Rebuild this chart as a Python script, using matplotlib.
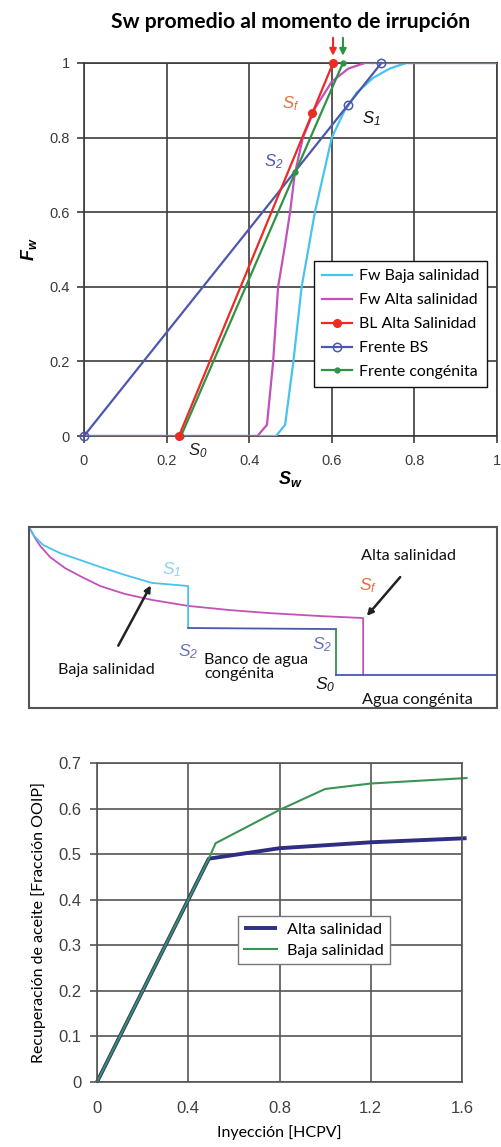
import matplotlib
matplotlib.use("Agg")
import matplotlib.pyplot as plt

# ---------------- data ----------------
# Fractional flow curves (Sw vs Fw)
sw_baja = [0, 0.465, 0.487, 0.507, 0.527, 0.559, 0.60, 0.63, 0.66, 0.70, 0.74, 0.78, 1.0]
fw_baja = [0, 0, 0.03, 0.2, 0.4, 0.6, 0.8, 0.87, 0.92, 0.96, 0.985, 1.0, 1.0]
sw_alta = [0, 0.42, 0.443, 0.458, 0.47, 0.485, 0.499, 0.51, 0.53, 0.56, 0.60, 0.64, 0.68, 1.0]
fw_alta = [0, 0, 0.03, 0.2, 0.4, 0.5, 0.6, 0.7, 0.8, 0.88, 0.95, 0.985, 1.0, 1.0]
sw_bl = [0.23, 0.553, 0.603]
fw_bl = [0, 0.866, 1.0]
sw_bs = [0, 0.639, 0.72]
fw_bs = [0, 0.887, 1.0]
sw_cg = [0.235, 0.512, 0.627]
fw_cg = [0, 0.708, 1.0]
top_ticks = [0, 0.2, 0.4, 0.6, 0.8, 1]
top_ticklabels = ["0", "0.2", "0.4", "0.6", "0.8", "1"]

# Saturation profile schematic (normalised distance, normalised saturation)
prof_baja_x = [0, 0.011, 0.030, 0.066, 0.109, 0.152, 0.205, 0.263, 0.340, 0.340]
prof_baja_y = [1, 0.950, 0.901, 0.856, 0.818, 0.779, 0.735, 0.691, 0.674, 0.442]
prof_banco_x = [0.340, 0.656]
prof_banco_y = [0.442, 0.436]
prof_s0_x = [0.656, 0.656]
prof_s0_y = [0.436, 0.182]
prof_cong_x = [0.656, 1.0]
prof_cong_y = [0.182, 0.182]
prof_alta_x = [0, 0.013, 0.024, 0.045, 0.077, 0.109, 0.152, 0.205, 0.263, 0.340,
               0.429, 0.509, 0.622, 0.714, 0.714]
prof_alta_y = [1, 0.939, 0.895, 0.834, 0.773, 0.729, 0.674, 0.630, 0.597, 0.564,
               0.541, 0.525, 0.508, 0.497, 0.182]

# Recovery curves
inj_alta = [0, 0.49, 0.8, 1.2, 1.62]
rec_alta = [0, 0.49, 0.513, 0.526, 0.535]
inj_baja = [0, 0.49, 0.52, 0.8, 1.0, 1.2, 1.62]
rec_baja = [0, 0.49, 0.524, 0.597, 0.643, 0.655, 0.667]
bot_xticks = [0, 0.4, 0.8, 1.2, 1.6]
bot_xticklabels = ["0", "0.4", "0.8", "1.2", "1.6"]
bot_yticks = [0, 0.1, 0.2, 0.3, 0.4, 0.5, 0.6, 0.7]
bot_yticklabels = ["0", "0.1", "0.2", "0.3", "0.4", "0.5", "0.6", "0.7"]

# ---------------- style ----------------
plt.rcParams["font.family"] = ["Liberation Sans", "DejaVu Sans"]
plt.rcParams["mathtext.default"] = "regular"
TXT = "Lato"
C_CYAN = "#48C3EE"
C_MAG = "#C251B9"
C_RED = "#EE2A24"
C_BLUE = "#4B58B0"
C_GREEN = "#2F9346"
C_ORANGE = "#EC6A3C"
GRID = "#3c3c3c"
TICKC = "#3a3a3a"

W, H = 501, 1147
fig = plt.figure(figsize=(W / 100, H / 100), dpi=100)


def box(l, t, r, b):
    return [l / W, 1 - b / H, (r - l) / W, (b - t) / H]


# ---------------- top: fractional flow ----------------
ax1 = fig.add_axes(box(84, 63, 497, 436))
ax1.set_xlim(0, 1)
ax1.set_ylim(0, 1)
ax1.set_xticks(top_ticks)
ax1.set_xticklabels(top_ticklabels)
ax1.set_yticks(top_ticks)
ax1.set_yticklabels(top_ticklabels)
ax1.grid(True, color=GRID, lw=1.2)
for s in ax1.spines.values():
    s.set_color(GRID)
    s.set_linewidth(1.2)
ax1.tick_params(length=5, width=1.2, color=GRID, labelsize=10.5, labelcolor=TICKC)
ax1.tick_params(axis="x", pad=8)
ax1.tick_params(axis="y", pad=5)

ax1.plot(sw_baja, fw_baja, color=C_CYAN, lw=1.6, label="Fw Baja salinidad", zorder=3)
ax1.plot(sw_alta, fw_alta, color=C_MAG, lw=1.6, label="Fw Alta salinidad", zorder=3)
ax1.plot(sw_bl, fw_bl, color=C_RED, lw=1.6, marker="o", ms=5.5,
         label="BL Alta Salinidad", zorder=5, clip_on=False)
ax1.plot(sw_bs, fw_bs, color=C_BLUE, lw=1.6, marker="o", ms=6, mfc="none", mew=1.1,
         label="Frente BS", zorder=4, clip_on=False)
ax1.plot(sw_cg, fw_cg, color=C_GREEN, lw=1.6, marker="o", ms=3.5,
         label="Frente congénita", zorder=4, clip_on=False)

for xa, col in ((sw_bl[-1], C_RED), (sw_cg[-1], C_GREEN)):
    ax1.annotate("", xy=(xa, 1.012), xytext=(xa, 1.075),
                 arrowprops=dict(arrowstyle="-|>", color=col, lw=1.5, mutation_scale=10),
                 annotation_clip=False)

ax1.text(0.5, 0.89, "$S_f$", color=C_ORANGE, fontsize=12, style="italic", ha="center", va="center")
ax1.text(0.697, 0.85, "$S_1$", color="#111111", fontsize=12, style="italic", ha="center", va="center")
ax1.text(0.46, 0.735, "$S_2$", color=C_BLUE, fontsize=12, style="italic", ha="center", va="center")
ax1.text(0.275, -0.04, "$S_0$", color="#222222", fontsize=12, style="italic", ha="center", va="center",
         clip_on=False)

leg1 = ax1.legend(loc="upper left", bbox_to_anchor=(0.556, 0.468), borderaxespad=0,
                  prop=dict(family=TXT, size=11.4), frameon=True, fancybox=False,
                  edgecolor="#111111", framealpha=1, handlelength=1.9,
                  handletextpad=0.45, labelspacing=0.62, borderpad=0.5)
leg1.get_frame().set_linewidth(1.0)

ax1.set_title("Sw promedio al momento de irrupción", family=TXT, fontweight="bold",
              fontsize=15.2, pad=25)
ax1.set_xlabel("$S_w$", fontsize=13, fontweight="bold", style="italic", labelpad=1)
ax1.set_ylabel("$F_w$", fontsize=13, fontweight="bold", style="italic", labelpad=8)

# ---------------- middle: saturation profile schematic ----------------
ax2 = fig.add_axes(box(29, 527, 497, 708))
ax2.set_xlim(0, 1)
ax2.set_ylim(0, 1)
ax2.set_xticks([])
ax2.set_yticks([])
for s in ax2.spines.values():
    s.set_color("#555555")
    s.set_linewidth(1.5)

ax2.plot(prof_alta_x, prof_alta_y, color=C_MAG, lw=1.3)
ax2.plot(prof_baja_x, prof_baja_y, color=C_CYAN, lw=1.3)
ax2.plot(prof_banco_x, prof_banco_y, color=C_BLUE, lw=1.3)
ax2.plot(prof_s0_x, prof_s0_y, color=C_GREEN, lw=1.3)
ax2.plot(prof_cong_x, prof_cong_y, color=C_BLUE, lw=1.3)

ax2.annotate("", xy=(0.263, 0.691), xytext=(0.188, 0.331),
             arrowprops=dict(arrowstyle="-|>", color="#222222", lw=1.8, mutation_scale=9))
ax2.annotate("", xy=(0.718, 0.497), xytext=(0.797, 0.735),
             arrowprops=dict(arrowstyle="-|>", color="#222222", lw=1.8, mutation_scale=9))

tkw = dict(family=TXT, fontsize=11.7, color="#111111")
ax2.text(0.165, 0.21, "Baja salinidad", ha="center", va="center", **tkw)
ax2.text(0.810, 0.840, "Alta salinidad", ha="center", va="center", **tkw)
ax2.text(0.374, 0.227, "Banco de agua\ncongénita", ha="left", va="center", linespacing=1.05, **tkw)
ax2.text(0.829, 0.044, "Agua congénita", ha="center", va="center", **tkw)
skw = dict(fontsize=12.5, style="italic", ha="center", va="center")
ax2.text(0.306, 0.762, "$S_1$", color="#8FD3EF", **skw)
ax2.text(0.724, 0.674, "$S_f$", color=C_ORANGE, **skw)
ax2.text(0.340, 0.309, "$S_2$", color="#6670C4", **skw)
ax2.text(0.626, 0.348, "$S_2$", color="#6670C4", **skw)
ax2.text(0.632, 0.127, "$S_0$", color="#111111", **skw)

# ---------------- bottom: recovery ----------------
ax3 = fig.add_axes(box(97, 763, 462, 1082))
ax3.set_xlim(0, 1.6)
ax3.set_ylim(0, 0.7)
ax3.set_xticks(bot_xticks)
ax3.set_xticklabels(bot_xticklabels)
ax3.set_yticks(bot_yticks)
ax3.set_yticklabels(bot_yticklabels)
ax3.grid(True, color="#555555", lw=1.2)
for s in ax3.spines.values():
    s.set_color("#555555")
    s.set_linewidth(1.2)
ax3.tick_params(axis="y", length=5, width=1.2, color="#555555", labelsize=12,
                labelcolor="#404040", pad=6)
ax3.tick_params(axis="x", length=0, labelsize=12, labelcolor="#404040", pad=14)

ax3.plot(inj_alta, rec_alta, color="#2E2E82", lw=2.8, label="Alta salinidad", clip_on=False,
         solid_capstyle="butt")
ax3.plot(inj_baja, rec_baja, color="#3A9455", lw=1.5, label="Baja salinidad", clip_on=False)

leg3 = ax3.legend(loc="upper left", bbox_to_anchor=(0.386, 0.52), borderaxespad=0,
                  prop=dict(family=TXT, size=11.7), frameon=True, fancybox=False,
                  edgecolor="#777777", framealpha=1, handlelength=2.0,
                  handletextpad=0.6, labelspacing=0.4, borderpad=0.4)
leg3.get_frame().set_linewidth(1.0)

ax3.set_xlabel("Inyección [HCPV]", family=TXT, fontsize=11.5, labelpad=6)
ax3.set_ylabel("Recuperación de aceite [Fracción OOIP]", family=TXT, fontsize=11.5, labelpad=9)

fig.savefig("out.png", dpi=100)
